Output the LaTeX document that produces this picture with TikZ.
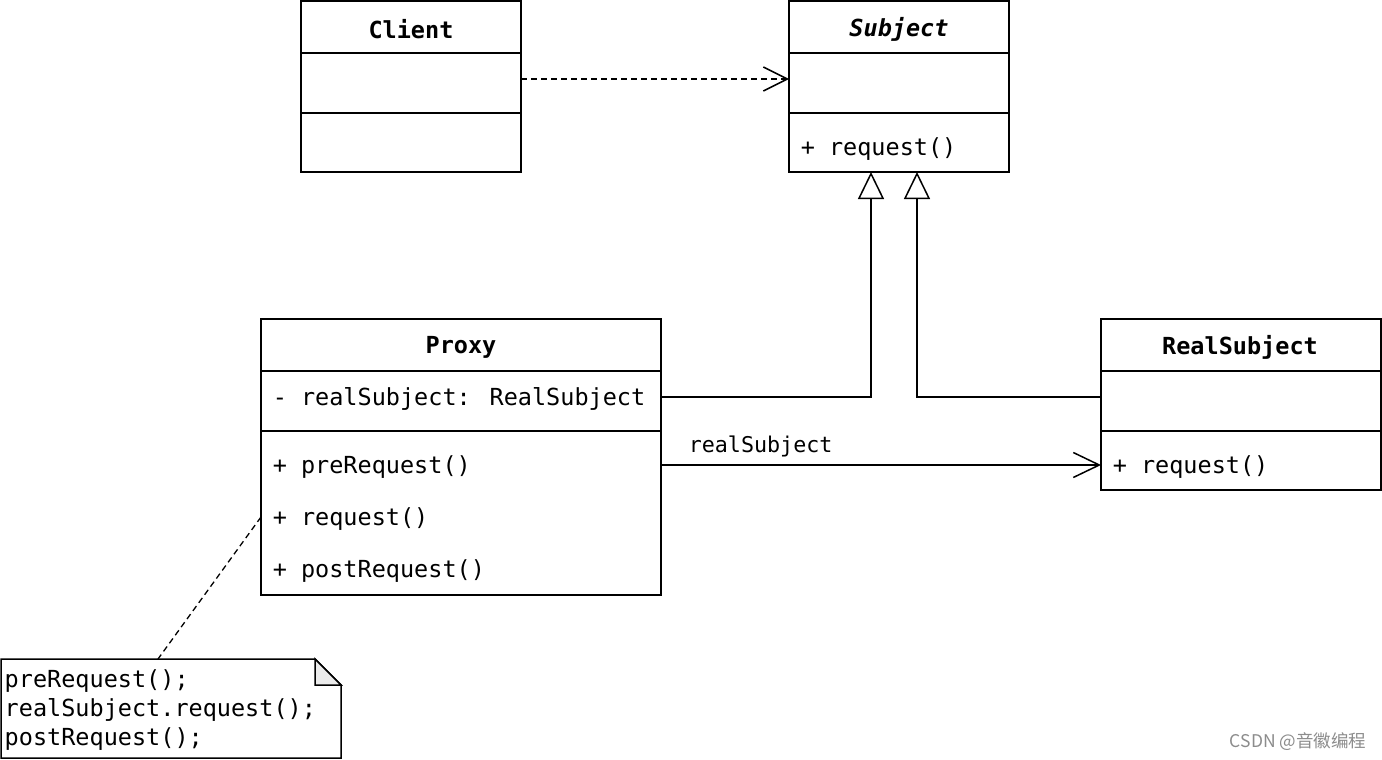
\documentclass[tikz,border=0pt]{standalone}
\usepackage{fontspec}
\setmainfont{DejaVu Sans Mono}
\newfontfamily\cjk{Noto Sans CJK SC}
\usetikzlibrary{arrows.meta,calc}
\begin{document}
\begin{tikzpicture}[x=1pt,y=-1pt,line width=1.5pt,
  box/.style={draw,inner sep=0pt,outer sep=0pt,anchor=north west},
  ttl/.style={font=\fontsize{23.5}{28}\selectfont\bfseries,inner sep=0pt},
  mem/.style={font=\fontsize{23.5}{28}\selectfont,anchor=west,inner sep=0pt},
  dep/.style={dash pattern=on 6pt off 4pt,-{Straight Barb[length=24pt,width=24pt,line width=1.5pt]}},
  assoc/.style={-{Straight Barb[length=26pt,width=25pt,line width=1.5pt]}},
  gen/.style={-{Triangle[length=27pt,width=26pt,fill=white,line width=1.5pt]}},
  notelink/.style={dash pattern=on 6pt off 4pt, line width=1.3pt}]
\useasboundingbox[fill=white] (0,0) rectangle (1382,760);

% Client
\node[box,minimum width=220pt,minimum height=171pt] (client) at (301,1) {};
\draw (301,53) -- (521,53);
\draw (301,113) -- (521,113);
\node[ttl] (clientT) at (411,29.5) {Client};

% Subject
\node[box,minimum width=220pt,minimum height=171pt] (subject) at (789,1) {};
\draw (789,53) -- (1009,53);
\draw (789,113) -- (1009,113);
\node[ttl,font=\fontsize{23.5}{28}\selectfont\bfseries\itshape] (subjectT) at (899,29.5) {Subject};
\node[mem] (subjectM) at (800,149) {+ request()};

% Proxy
\node[box,minimum width=400pt,minimum height=276pt] (proxy) at (261,319) {};
\draw (261,371) -- (661,371);
\draw (261,431) -- (661,431);
\node[ttl] (proxyT) at (461,347.5) {Proxy};
\node[mem] (proxyA) at (272,399) {- realSubject: RealSubject};
\node[mem] (proxyM1) at (272,467) {+ preRequest()};
\node[mem] (proxyM2) at (272,519) {+ request()};
\node[mem] (proxyM3) at (272,571) {+ postRequest()};

% RealSubject
\node[box,minimum width=280pt,minimum height=171pt] (real) at (1101,319) {};
\draw (1101,371) -- (1381,371);
\draw (1101,431) -- (1381,431);
\node[ttl] (realT) at (1240,347.5) {RealSubject};
\node[mem] (realM) at (1112,467) {+ request()};

% Note
\node[inner sep=0pt,outer sep=0pt,anchor=north west,minimum width=340pt,minimum height=99pt] (note) at (1,659) {};
\draw[fill=white] (note.north west) -- ($(note.north east)+(-26,0)$) -- ($(note.north east)+(0,26)$) -- (note.south east) -- (note.south west) -- cycle;
\draw[fill=black!8] ($(note.north east)+(-26,0)$) -- ($(note.north east)+(-26,26)$) -- ($(note.north east)+(0,26)$) -- cycle;
\node[mem] (noteL1) at (4,681) {preRequest();};
\node[mem] (noteL2) at (4,710) {realSubject.request();};
\node[mem] (noteL3) at (4,739) {postRequest();};

% Connectors
\draw[dep] (client.east |- 0,79) -- (subject.west |- 0,79);
\draw[gen] (proxy.east |- 0,397) -| (subject.south -| 871,0);
\draw[gen] (real.west |- 0,397) -| (subject.south -| 917,0);
\draw[assoc] (proxy.east |- 0,465) -- (real.west |- 0,465);
\node[mem,font=\fontsize{21.7}{26}\selectfont] (assocL) at (688,446) {realSubject};
\draw[notelink] (proxy.west |- 0,517) -- ($(note.north west)+(157,0)$);

% Watermark
\node[anchor=east,inner sep=0pt,text=black!45,font=\cjk\fontsize{17.5}{20}\selectfont] (wm) at (1367,742) {CSDN @音徽编程};
\end{tikzpicture}
\end{document}
